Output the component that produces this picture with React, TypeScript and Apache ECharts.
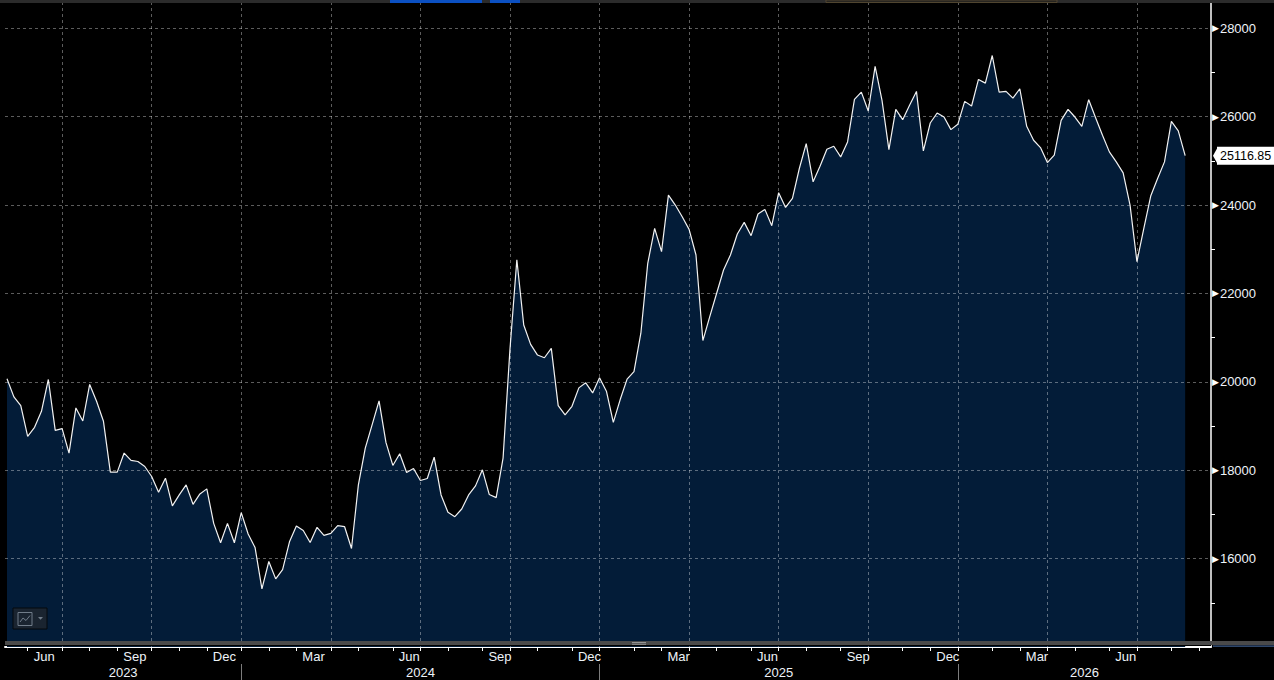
import React, { useEffect, useRef } from "react";
import * as echarts from "echarts";

// ---- DATA ----
const firstWeek = "2023-05-12"; // first weekly observation (Friday)
const axisWeeks = 175; // weekly slots shown on the time axis (data + empty space at right)
const closeValues = [
  20068, 19660, 19463, 18766, 18970, 19334, 20053, 18902, 18940, 18388,
  19410, 19114, 19940, 19561, 19107, 17956, 17956, 18388, 18221, 18198,
  18085, 17858, 17502, 17820, 17192, 17441, 17668, 17229, 17464, 17578,
  16798, 16359, 16798, 16359, 17040, 16556, 16253, 15314, 15935, 15541,
  15753, 16381, 16737, 16635, 16366, 16707, 16525, 16571, 16745, 16722,
  16230, 17668, 18501, 19031, 19569, 18630, 18108, 18372, 17948, 18039,
  17767, 17812, 18297, 17441, 17048, 16949, 17123, 17441, 17646, 18009,
  17449, 17381, 18274, 20734, 22763, 21287, 20848, 20606, 20545, 20757,
  19463, 19251, 19447, 19863, 19977, 19750, 20091, 19788, 19084, 19599,
  20060, 20233, 21100, 22682, 23473, 22945, 24226, 24000, 23736, 23450,
  22870, 20934, 21477, 22004, 22531, 22870, 23345, 23608, 23307, 23797,
  23902, 23533, 24279, 23947, 24151, 24827, 25391, 24526, 24880, 25263,
  25331, 25090, 25428, 26391, 26556, 26128, 27136, 26368, 25255, 26165,
  25932, 26256, 26571, 25225, 25857, 26083, 25992, 25707, 25827, 26346,
  26241, 26842, 26759, 27384, 26556, 26571, 26421, 26632, 25782, 25466,
  25300, 24962, 25128, 25917, 26165, 25992, 25782, 26384, 25977, 25579,
  25203, 24977, 24729, 24000, 22721, 23473, 24203, 24602, 24977, 25895,
  25677, 25116.85,
];
const yTickLabels = [16000, 18000, 20000, 22000, 24000, 26000, 28000];
const yMinorTicks = [15000, 17000, 19000, 21000, 23000, 25000, 27000];
const monthNames = ["Jan", "Feb", "Mar", "Apr", "May", "Jun", "Jul", "Aug", "Sep", "Oct", "Nov", "Dec"];
const labelledMonths = [2, 5, 8, 11]; // Mar, Jun, Sep, Dec
const quarterMonths = [0, 3, 6, 9]; // gridlines at Jan, Apr, Jul, Oct

// ---- derived ----
const WEEK_MS = 7 * 86400000;
const startMs = Date.parse(firstWeek + "T00:00:00Z");
const weekDates = Array.from({ length: axisWeeks }, (_, i) => new Date(startMs + i * WEEK_MS));
const monthStartIdx: number[] = [];
for (let i = 1; i < weekDates.length; i++) {
  if (weekDates[i].getUTCMonth() !== weekDates[i - 1].getUTCMonth()) monthStartIdx.push(i);
}
const monthLabelIdx = monthStartIdx.filter(
  (i) => labelledMonths.includes(weekDates[i].getUTCMonth()) && i < closeValues.length
);
const quarterIdx = monthStartIdx.filter((i) => quarterMonths.includes(weekDates[i].getUTCMonth()));
const yearStartIdx = monthStartIdx.filter((i) => weekDates[i].getUTCMonth() === 0);

const X_MIN = -0.29;
const X_MAX = 174.75;
const Y_MIN = 14000;
const Y_MAX = 28572;

const yearBounds = [X_MIN, ...yearStartIdx, X_MAX];
const yearMids: number[] = [];
for (let i = 0; i < yearBounds.length - 1; i++) yearMids.push((yearBounds[i] + yearBounds[i + 1]) / 2);

const lastValue = closeValues[closeValues.length - 1];
const FONT = "'Liberation Sans', Arial, sans-serif";

const dateAt = (v: number) => weekDates[Math.max(0, Math.min(axisWeeks - 1, Math.floor(v + 0.01)))];

export default function App() {
  const ref = useRef<HTMLDivElement>(null);
  useEffect(() => {
    if (!ref.current) return;
    const chart = echarts.init(ref.current, null, { renderer: "svg" });
    const gridLine = { type: [3, 3], color: "rgba(255,255,255,0.36)", width: 1 };
    chart.setOption({
      animation: false,
      backgroundColor: "#000",
      textStyle: { fontFamily: FONT },
      grid: { left: 5, right: 63, top: 3, bottom: 33, containLabel: false },
      xAxis: [
        {
          type: "value",
          min: X_MIN,
          max: X_MAX,
          position: "bottom",
          axisLine: { show: true, onZero: false, lineStyle: { color: "#ffffff", width: 2 } },
          axisTick: {
            show: true,
            customValues: monthStartIdx,
            length: 4,
            lineStyle: { color: "#ffffff", width: 1 },
          },
          axisLabel: {
            show: true,
            customValues: monthLabelIdx,
            formatter: (v: number) => monthNames[dateAt(v).getUTCMonth()],
            align: "left",
            padding: [0, 0, 0, 6],
            margin: 3,
            color: "#eef3f8",
            fontSize: 13,
            fontFamily: FONT,
            hideOverlap: false,
          },
          splitLine: { show: false },
        },
        {
          type: "value",
          min: X_MIN,
          max: X_MAX,
          position: "bottom",
          offset: 17,
          axisLine: { show: false, onZero: false },
          axisTick: {
            show: true,
            customValues: yearStartIdx,
            length: 17,
            lineStyle: { color: "#7c7c7c", width: 1 },
          },
          axisLabel: {
            show: true,
            customValues: yearMids,
            formatter: (v: number) => String(dateAt(v).getUTCFullYear()),
            margin: 2,
            color: "#eef3f8",
            fontSize: 13,
            fontFamily: FONT,
            hideOverlap: false,
          },
          splitLine: { show: false },
        },
      ],
      yAxis: {
        type: "value",
        position: "right",
        min: Y_MIN,
        max: Y_MAX,
        interval: 2000,
        axisLine: { show: true, onZero: false, lineStyle: { color: "#ffffff", width: 1.5 } },
        axisTick: {
          show: true,
          customValues: yMinorTicks,
          length: 4,
          lineStyle: { color: "#ffffff", width: 1 },
        },
        axisLabel: {
          show: true,
          customValues: yTickLabels,
          margin: 1,
          formatter: (v: number) => `{t|▶}{n|${v}}`,
          rich: {
            t: { color: "#ffffff", fontSize: 9, fontFamily: "DejaVu Sans" },
            n: { color: "#eef3f8", fontSize: 13, fontFamily: FONT, padding: [0, 0, 0, 1] },
          },
        },
        splitLine: { show: false },
      },
      series: [
        {
          type: "line",
          xAxisIndex: 0,
          data: closeValues.map((v, i) => [i, v]),
          showSymbol: false,
          symbol: "none",
          lineStyle: { color: "#f2f2f2", width: 1.2 },
          areaStyle: { color: "#031c38", opacity: 1, origin: "start" },
          z: 2,
          markLine: {
            silent: true,
            symbol: ["none", "none"],
            animation: false,
            lineStyle: gridLine,
            label: { show: false },
            data: [
              ...quarterIdx.map((i) => ({ xAxis: i })),
              ...yTickLabels.map((v) => ({ yAxis: v })),
              {
                yAxis: lastValue,
                lineStyle: { color: "rgba(0,0,0,0)", width: 0, type: "solid" },
                label: {
                  show: true,
                  position: "end",
                  distance: 6,
                  formatter: lastValue.toFixed(2),
                  backgroundColor: "#ffffff",
                  color: "#000000",
                  opacity: 1,
                  fontSize: 12.5,
                  fontFamily: FONT,
                  lineHeight: 13,
                  padding: [3, 3, 2, 3],
                },
              },
            ],
          },
          markPoint: {
            silent: true,
            animation: false,
            data: [
              {
                coord: [X_MAX, lastValue],
                symbol: "path://M10 0L10 20L0 10Z",
                symbolSize: [5, 18],
                symbolKeepAspect: false,
                symbolOffset: [4.5, 0],
                itemStyle: { color: "#ffffff" },
                label: { show: false },
              },
            ],
          },
        },
      ],
      graphic: [
        // top toolbar strip
        { type: "rect", z: 100, silent: true, shape: { x: 0, y: 0, width: 1274, height: 3 }, style: { fill: "#2b2b2b" } },
        { type: "rect", z: 101, silent: true, shape: { x: 390, y: 0, width: 92, height: 3 }, style: { fill: "#0b50c2" } },
        { type: "rect", z: 101, silent: true, shape: { x: 490, y: 0, width: 30, height: 3 }, style: { fill: "#0b50c2" } },
        { type: "rect", z: 101, silent: true, shape: { x: 826, y: 0, width: 231, height: 2.5 }, style: { fill: "#262420", stroke: "#5a4c32", lineWidth: 0.8 } },
        // bottom splitter bar
        { type: "rect", z: 100, silent: true, shape: { x: 5, y: 641, width: 1269, height: 4 }, style: { fill: "#4a4a4a" } },
        { type: "rect", z: 100, silent: true, shape: { x: 5, y: 645, width: 1206, height: 1 }, style: { fill: "#000000" } },
        { type: "rect", z: 101, silent: true, shape: { x: 632, y: 642, width: 14, height: 0.8 }, style: { fill: "#a8a8a8" } },
        { type: "rect", z: 101, silent: true, shape: { x: 632, y: 643.8, width: 14, height: 0.8 }, style: { fill: "#a8a8a8" } },
        { type: "rect", z: 100, silent: true, shape: { x: 1213, y: 645.5, width: 61, height: 1.3 }, style: { fill: "#3f5f8f" } },
        // chart type button (bottom left)
        { type: "rect", z: 102, silent: true, shape: { x: 13, y: 608, width: 34, height: 21 }, style: { fill: "#1a2430", stroke: "#05080c", lineWidth: 1 } },
        { type: "rect", z: 103, silent: true, shape: { x: 18, y: 612.5, width: 14, height: 13 }, style: { fill: "none", stroke: "#717d8a", lineWidth: 1 } },
        { type: "polyline", z: 103, silent: true, shape: { points: [[20, 622], [23, 618], [26, 620.5], [30, 615.5]] }, style: { fill: "none", stroke: "#717d8a", lineWidth: 1 } },
        { type: "polygon", z: 103, silent: true, shape: { points: [[38, 617], [43, 617], [40.5, 619.7]] }, style: { fill: "#717d8a" } },
      ],
    });
    return () => chart.dispose();
  }, []);
  return (
    <div
      ref={ref}
      style={{ position: "absolute", left: 0, top: 0, width: 1274, height: 680, background: "#000" }}
    />
  );
}
